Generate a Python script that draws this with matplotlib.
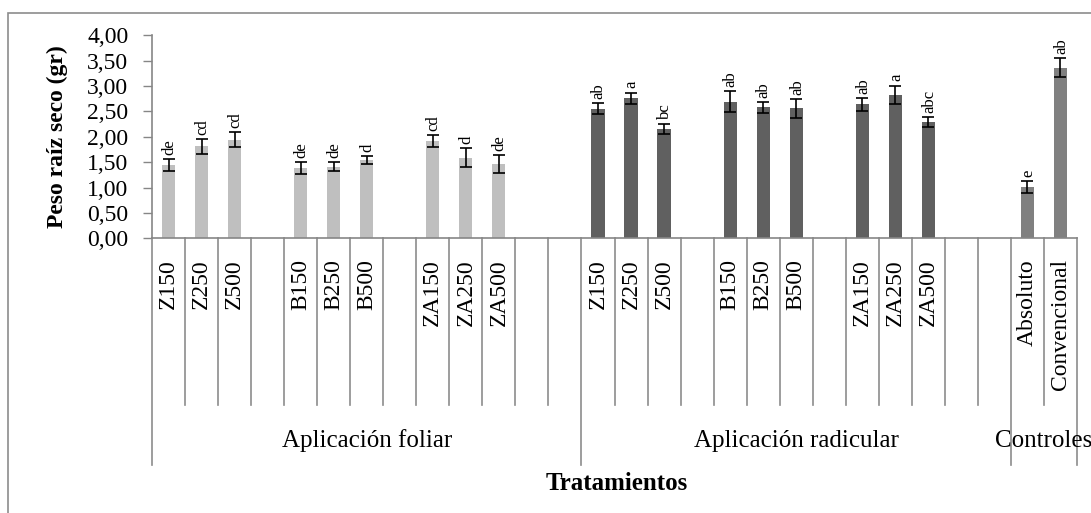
import numpy as np
import matplotlib
matplotlib.use('Agg')
import matplotlib.pyplot as plt
from matplotlib import transforms
from matplotlib.patches import Rectangle

# Data ('' = empty category slot)
foliar_labels = ['Z150', 'Z250', 'Z500', '', 'B150', 'B250', 'B500', '',
                 'ZA150', 'ZA250', 'ZA500', '', '']
foliar_values = [1.44, 1.81, 1.94, np.nan, 1.38, 1.41, 1.54, np.nan,
                 1.92, 1.59, 1.46, np.nan, np.nan]
foliar_errors = [0.12, 0.14, 0.15, np.nan, 0.12, 0.09, 0.08, np.nan,
                 0.12, 0.18, 0.18, np.nan, np.nan]
foliar_letters = ['de', 'cd', 'cd', '', 'de', 'de', 'd', '',
                  'cd', 'd', 'de', '', '']

radicular_labels = ['Z150', 'Z250', 'Z500', '', 'B150', 'B250', 'B500', '',
                    'ZA150', 'ZA250', 'ZA500', '', '']
radicular_values = [2.55, 2.76, 2.16, np.nan, 2.69, 2.58, 2.56, np.nan,
                    2.64, 2.83, 2.29, np.nan, np.nan]
radicular_errors = [0.11, 0.11, 0.10, np.nan, 0.21, 0.11, 0.18, np.nan,
                    0.13, 0.18, 0.10, np.nan, np.nan]
radicular_letters = ['ab', 'a', 'bc', '', 'ab', 'ab', 'ab', '',
                     'ab', 'a', 'abc', '', '']

control_labels = ['Absoluto', 'Convencional']
control_values = [1.01, 3.36]
control_errors = [0.11, 0.19]
control_letters = ['e', 'ab']

group_names = ['Aplicación foliar', 'Aplicación radicular', 'Controles']
y_ticks = [0, 0.5, 1.0, 1.5, 2.0, 2.5, 3.0, 3.5, 4.0]

plt.rcParams['font.family'] = ['Liberation Serif', 'DejaVu Serif']

W, H = 1091, 513
fig = plt.figure(figsize=(W / 100, H / 100), dpi=100)

# axes box in pixels (left, right, y of 0, y of 4)
ax_l, ax_r, ax_y0, ax_y4 = 152, 1077, 238.3, 35.3
ax = fig.add_axes([ax_l / W, (H - ax_y0) / H, (ax_r - ax_l) / W, (ax_y0 - ax_y4) / H])


def frac(y_px):
    # pixel row -> axes fraction
    return (ax_y0 - y_px) / (ax_y0 - ax_y4)


groups = [
    (foliar_labels, foliar_values, foliar_errors, foliar_letters, '#BFBFBF'),
    (radicular_labels, radicular_values, radicular_errors, radicular_letters, '#606060'),
    (control_labels, control_values, control_errors, control_letters, '#808080'),
]

all_labels = []
group_bounds = []
start = 0
for labels, values, errors, letters, color in groups:
    x = np.arange(start, start + len(labels)) + 0.5
    vals = np.array(values, dtype=float)
    errs = np.array(errors, dtype=float)
    ax.bar(x, vals, width=0.4, color=color, edgecolor='none', zorder=2)
    ax.errorbar(x, vals, yerr=errs, fmt='none', ecolor='black', elinewidth=1.2,
                capsize=4, capthick=1.2, zorder=3)
    for xi, v, e, let in zip(x, vals, errs, letters):
        if let:
            ax.annotate(let, (xi, v + e), xytext=(0.5, 3), textcoords='offset points',
                        rotation=90, ha='center', va='bottom', fontsize=12)
    all_labels += labels
    group_bounds.append((start, start + len(labels)))
    start += len(labels)

n = len(all_labels)
ax.set_xlim(0, n)
ax.set_ylim(0, 4)

ax.set_yticks(y_ticks)
ax.set_yticklabels([f'{v:.2f}'.replace('.', ',') for v in y_ticks], fontsize=17)
ax.tick_params(axis='y', direction='out', length=6.5, width=1, color='#868686', pad=10.5)

ax.set_xticks(np.arange(n) + 0.5)
ax.set_xticklabels(all_labels, rotation=90, fontsize=17, va='top', ha='center')
ax.tick_params(axis='x', length=0, pad=15)

for side in ['top', 'right']:
    ax.spines[side].set_visible(False)
for side in ['left', 'bottom']:
    ax.spines[side].set_color('#868686')
    ax.spines[side].set_linewidth(1.2)

# category separators below the axis
trans = transforms.blended_transform_factory(ax.transData, ax.transAxes)
group_edges = sorted({b for g in group_bounds for b in g})
for k in range(n + 1):
    bottom = frac(465) if k in group_edges else frac(405)
    ax.plot([k, k], [0, bottom], color='#8c8c8c', lw=1.2, transform=trans, clip_on=False)

for (a, b), name in zip(group_bounds, group_names):
    ax.text((a + b) / 2, frac(441), name, transform=trans, ha='center', va='center',
            fontsize=18, clip_on=False)

ax.set_ylabel('Peso raíz seco (gr)', fontsize=17, fontweight='bold')
ax.yaxis.set_label_coords((68 - ax_l) / (ax_r - ax_l), 0.5)
ax.set_xlabel('Tratamientos', fontsize=18, fontweight='bold')
ax.xaxis.set_label_coords(0.502, frac(472))

# chart outer frame
fig.add_artist(Rectangle((8 / W, -0.2), 1.2, (H - 13) / H + 0.2, transform=fig.transFigure,
                         fill=False, edgecolor='#8c8c8c', lw=1.2))

fig.savefig('out.png', dpi=100)
